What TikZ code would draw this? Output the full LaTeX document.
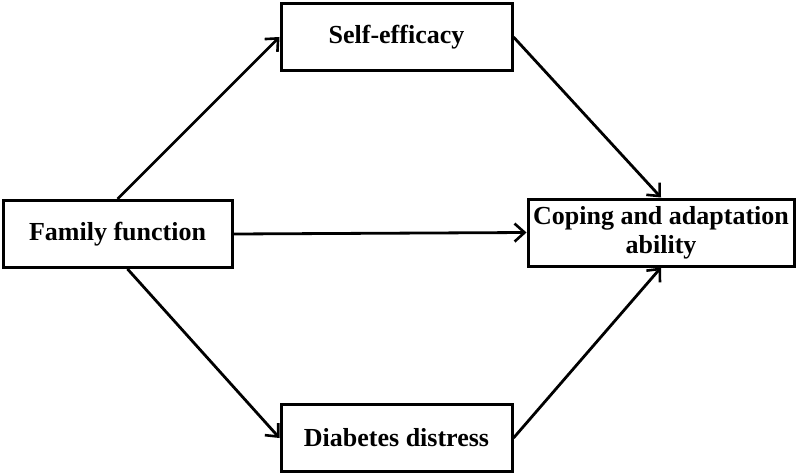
\documentclass[tikz,border=0pt]{standalone}
\usepackage{fontspec}
\setmainfont{Liberation Serif}
\usetikzlibrary{arrows.meta}
\begin{document}
\begin{tikzpicture}[x=1pt,y=-1pt,
  box/.style={draw=black, line width=3pt, minimum width=#1, minimum height=67pt, inner sep=0pt,
    align=center, font=\fontsize{26}{30}\selectfont\bfseries},
  link/.style={line width=2.8pt, -{Straight Barb[length=10pt,width=18pt,line width=2.6pt]}}]
\useasboundingbox (0,0) rectangle (800,476);
\node[box=229pt] (fam) at (117.5,234) {Family function};
\node[box=231pt] (self) at (396.5,37) {Self-efficacy};
\node[box=231pt] (dia) at (396.5,438) {Diabetes distress};
\node[box=266pt] (cop) at (661,232.5) {Coping and adaptation\\[-1pt]ability};
\draw[link] (fam.north) -- (self.west);
\draw[link] (fam.east) -- (cop.west);
\draw[link] ([xshift=10pt]fam.south) -- (dia.west);
\draw[link] (self.east) -- (cop.north);
\draw[link] (dia.east) -- (cop.south);
\end{tikzpicture}
\end{document}
